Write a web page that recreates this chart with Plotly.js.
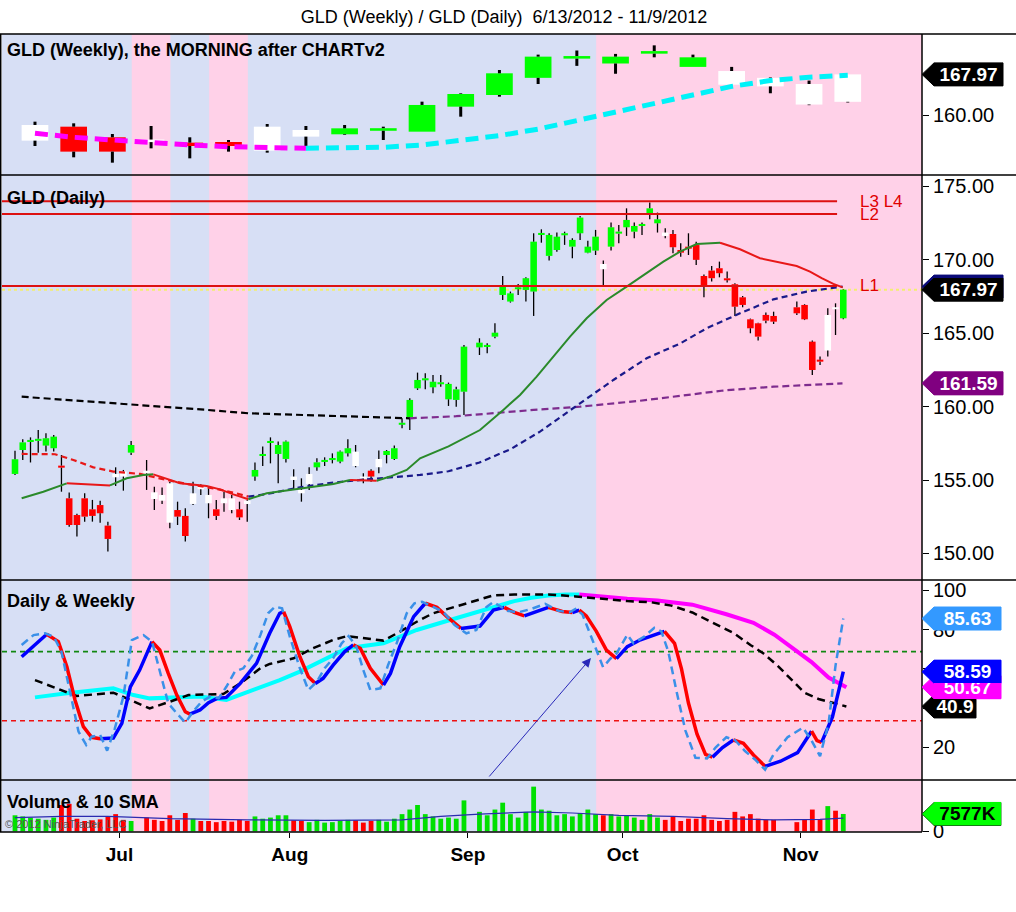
<!DOCTYPE html>
<html><head><meta charset="utf-8">
<script src="https://cdn.plot.ly/plotly-3.0.1.min.js"></script>
<style>html,body{margin:0;padding:0;background:#fff;}#chart{width:1016px;height:912px;}</style>
</head><body><div id="chart"></div>
<script>
// ================= DATA =================
const firstWeekday = '2012-06-12';
const marketClosed = ['2012-07-04','2012-09-03','2012-10-29','2012-10-30'];
const monthNames = ['Jan','Feb','Mar','Apr','May','Jun','Jul','Aug','Sep','Oct','Nov','Dec'];

// Daily GLD candles (trading days in order)
const dailyOpen = [155.42,157.05,157.60,157.68,157.35,157.17,155.96,153.76,152.62,153.76,153.01,153.30,151.90,155.42,155.58,156.87,
 155.64,154.17,153.99,154.78,152.96,152.56,153.38,154.55,153.99,153.01,153.76,153.76,153.01,153.60,155.24,156.64,157.55,156.78,156.44,155.24,154.33,154.74,155.87,156.26,156.39,156.26,156.82,156.94,155.24,155.64,155.87,156.71,156.44,158.80,159.28,161.25,161.82,161.32,161.55,160.50,160.46,161.02,
 164.04,164.09,164.77,167.61,167.16,168.02,167.95,167.84,171.72,170.27,170.67,171.70,170.90,171.81,170.49,170.63,169.72,170.90,171.81,172.22,171.92,172.33,173.13,172.49,171.86,171.76,170.67,170.90,171.01,168.90,169.27,169.43,168.72,168.34,167.45,165.95,165.68,166.25,166.18,
 166.77,166.93,164.43,163.18,163.82,166.75,166.02];
const dailyHigh = [157.00,157.78,157.91,158.41,158.19,158.07,156.71,154.15,152.70,154.10,153.65,153.60,152.17,155.87,155.69,157.66,
 156.37,154.55,154.50,154.89,153.53,153.08,154.89,154.71,154.44,153.65,154.21,153.99,153.53,153.65,156.19,157.28,157.91,157.62,157.69,155.73,155.12,155.87,156.48,156.55,156.82,157.01,157.78,157.39,155.46,155.73,157.01,157.05,157.35,159.21,160.57,162.32,162.27,162.16,162.16,161.64,161.36,164.20,
 164.66,164.32,165.68,168.90,167.84,168.36,168.81,171.81,172.08,171.81,171.86,171.92,171.47,172.99,171.31,172.04,169.95,172.54,172.38,173.51,172.54,172.54,173.90,173.22,172.15,172.04,171.13,171.81,171.24,169.00,169.58,169.88,169.20,168.40,167.54,166.00,165.72,166.41,166.47,
 167.16,166.98,164.50,163.41,166.70,167.04,168.00];
const dailyLow = [155.35,156.37,156.20,156.87,156.94,156.94,154.21,151.83,151.15,152.17,152.17,152.10,150.13,154.60,154.28,156.71,
 154.33,152.96,153.37,151.72,151.94,150.81,153.30,153.99,152.40,152.28,152.85,152.74,152.28,152.17,154.96,155.96,156.14,154.78,156.19,154.33,153.53,154.33,155.64,155.96,156.14,156.14,156.60,155.87,154.78,154.89,155.46,156.14,156.37,158.53,158.41,161.14,161.18,160.91,161.36,160.05,160.00,159.43,
 163.52,163.64,164.66,167.27,167.09,167.61,167.16,166.18,171.17,169.95,170.56,171.02,170.11,171.36,170.45,170.33,168.29,170.63,171.13,171.63,171.47,171.70,172.76,171.86,171.47,170.45,170.22,170.33,169.65,167.45,168.52,168.81,168.45,166.18,166.77,165.00,164.50,165.68,165.63,
 166.25,165.90,162.16,162.84,163.41,164.88,165.95];
const dailyClose = [156.42,157.57,157.73,157.80,157.85,157.96,155.87,151.94,151.94,152.51,152.56,152.74,150.99,155.19,155.24,157.39,
 155.46,153.71,153.60,152.10,152.51,151.19,154.10,154.37,153.42,152.56,153.42,152.96,152.46,153.37,155.69,156.78,157.64,157.39,157.62,155.01,154.10,155.42,156.21,156.35,156.48,156.94,157.17,155.96,155.10,155.24,156.44,156.98,157.17,158.87,160.46,161.82,161.91,161.70,161.64,161.55,161.18,164.09,
 164.36,164.18,165.04,168.29,167.72,168.11,168.75,171.24,171.81,171.70,171.58,171.79,171.36,172.88,170.90,171.58,169.36,172.22,171.90,172.72,172.31,172.42,173.51,172.76,171.63,170.86,170.49,170.76,170.00,168.18,168.75,169.09,168.63,166.81,166.93,165.34,164.77,165.86,165.79,
 166.36,165.95,162.50,163.09,166.25,166.66,167.97];
// bar paint: G = green, R = red, W = white
const dailyPaint = ('GGGGGG RRRRRRR WW G WWWW RR WWW R WW R W GGGGG WWW GGGGG WW R W GGGGGGGGGGG ' +
                    'GGGGGGGGGGGGGGGG W GGGGGGG W RRRRRRRRRRRRRR RRRR WW G').replace(/ /g,'').split('');
// Daily volume (thousands of shares)
const dailyVolume = [7000,6500,6000,5500,5000,6000,11500,12000,5500,4500,4800,5200,6500,7500,5000,4500,
 6000,5000,4500,7000,5000,8000,5500,4500,4500,4000,4500,4200,5000,4500,6500,5500,6000,7000,7000,4800,4500,4000,5000,3800,4000,4500,5000,4800,3800,4500,5000,4200,5500,7500,9500,11500,7500,6500,5500,6000,5500,13500,
 8500,7000,9500,12500,7500,6000,8500,19500,9500,9000,7000,7500,6500,8000,9500,7500,7000,7500,6500,7000,6000,5000,7500,6000,5000,6500,4500,5500,5500,7000,5000,4500,5000,8500,6500,7500,5500,5000,5000,
 4000,5000,9500,5000,11000,9000,7577];
const volSmaDays = [0,6,12,20,30,40,50,55,60,67,72,78,85,92,98,104,107];
const volSmaVals = [6000,6500,6500,5500,5000,4800,5000,6500,7500,8500,8000,7000,6500,5500,5000,5200,5800];

// Weekly GLD candles
const weeklyOpen  = [155.12,157.83,155.77,154.93,154.73,154.86,153.18,155.90,156.35,157.19,156.86,161.71,163.97,167.30,171.14,170.08,172.07,169.42,168.62,167.30,166.10,162.65];
const weeklyHigh  = [158.80,158.48,156.41,157.96,155.77,155.25,158.35,157.96,158.16,157.83,162.68,164.30,168.82,171.80,172.60,171.94,173.60,171.80,169.42,167.40,166.77,167.97];
const weeklyLow   = [154.08,151.89,150.85,153.63,151.69,152.99,152.79,154.08,156.22,155.25,156.86,159.77,163.65,166.10,169.62,168.09,171.28,169.42,165.97,164.31,162.00,162.52];
const weeklyClose = [158.16,152.99,152.99,155.25,154.08,154.08,157.83,157.19,157.51,157.38,162.04,164.17,168.18,171.41,171.41,171.41,172.40,171.28,165.97,165.64,162.12,167.97];
const weeklyPaint = 'WRRWRRWWGGGGGGGGGGWWWW'.split('');
const weeklyMA    = [156.55,155.77,155.25,154.73,154.28,153.95,153.70,153.64,153.66,153.83,154.28,155.25,156.10,157.36,159.01,160.66,162.33,163.98,165.64,166.77,167.43,167.80];
const pinkWeeks   = [3,5,15,16,17,18,19,20,21];

// Daily moving averages (day position, value)
const fastMADays = [0.86,3.66,6.68,9.26,12.27,14.43,16.58,17.87,19.6,21.32,24.76,26.49,28.21,30.15,32.52,35.53,38.97,41.13,43.28,45.0,46.73,48.45,50.6,52.33,56.0,60.07,63.08,65.24,67.39,69.54,71.7,73.85,76.43,79.02,81.6,83.76,85.91,88.06,91.08,93.66,96.24,98.83,100.98,102.7,104.21,105.72,106.92];
const fastMAVals = [153.76,154.21,154.78,154.71,154.64,155.12,155.35,155.39,155.08,154.78,154.60,154.37,154.03,153.69,154.10,154.33,154.60,154.74,155.00,154.97,154.95,155.24,155.69,156.48,157.30,158.41,159.78,160.80,162.05,163.41,164.77,166.02,167.27,168.18,169.09,169.88,170.56,171.08,171.17,170.72,170.11,169.81,169.58,169.20,168.75,168.36,168.13];
const slowMADays = [0.86,5.17,7.54,10.12,12.7,16.15,19.6,22.18,25.62,28.21,30.15,32.52,36.82,41.13,45.43,48.88,52.33,56.0,60.0,64.0,67.82,72.99,77.3,81.6,85.91,89.35,93.66,97.97,102.27,106.92];
const slowMAVals = [156.78,156.76,156.37,155.87,155.58,155.42,155.01,154.74,154.44,154.15,153.87,154.05,154.51,154.83,155.05,155.19,155.35,155.60,156.20,157.10,158.30,160.23,161.82,163.30,164.30,165.34,166.36,167.31,167.84,168.18];
const longMADays = [0.86,16.6,24.8,30.15,36.8,45.4,51.0,57.0,67.0,73.0,80.7,85.9,91.5,98.0,106.9];
const longMAVals = [160.68,160.12,159.78,159.55,159.44,159.28,159.21,159.35,159.78,160.00,160.40,160.73,161.10,161.36,161.59];
const levelValues = [174.00,173.12,168.22];
const levelNames  = ['L3 L4','L2','L1'];

// Stochastics (day position, value)
const dSlowDays = [0.86,4.1,5.6,6.7,7.75,8.83,9.9,11.0,12.7,13.8,14.9,16.1,17.7,18.7,19.8,20.9,22.0,22.6,23.9,25.0,26.1,27.3,29.1,31.2,32.9,34.2,34.7,35.5,36.8,37.9,38.8,39.8,41.1,42.6,43.7,44.6,45.9,47.6,48.5,49.7,51.5,53.0,54.5,55.8,57.6,60.07,61.8,63.2,64.5,65.8,67.1,68.9,70.7,72.0,72.9,73.8,75.1,76.4,77.7,79.1,80.8,82.6,83.9,85.2,86.1,87.0,88.1,89.2,90.1,91.4,92.8,94.1,95.4,96.9,98.9,101.1,102.9,103.6,104.2,105.6,107.0];
const dSlowVals = [66.2,77.6,73.9,61.1,44.2,30.6,25.2,24.5,24.8,32.3,50.9,59.4,73.9,69.6,57.7,46.7,38.2,37.0,39.1,42.8,45.0,45.5,52.6,62.8,78.1,88.3,89.1,81.5,66.2,56.0,52.6,55.2,61.9,68.8,72.2,70.5,60.3,51.8,57.7,71.3,86.6,93.4,91.3,86.6,80.6,81.8,89.9,91.3,88.7,87.0,88.7,91.3,89.2,88.7,89.9,87.0,79.1,69.6,65.2,71.3,74.8,77.4,79.1,73.0,60.0,42.6,26.9,16.5,15.1,20.0,23.8,22.1,16.2,10.4,13.0,17.4,28.3,23.5,22.6,35.6,58.59];
const dFastDays = [0.86,2.4,3.9,5.0,6.0,7.1,8.2,9.2,9.9,11.0,11.9,12.9,14.0,15.1,16.6,17.7,18.7,19.8,20.9,22.0,23.0,24.1,25.2,26.3,27.3,28.4,29.5,30.6,31.7,32.7,33.6,34.5,35.5,36.8,37.9,39.0,40.0,41.1,42.2,43.1,44.1,45.0,45.9,47.2,48.2,49.3,50.6,51.6,52.6,53.9,55.3,56.8,58.3,59.6,60.9,61.8,63.6,64.9,66.7,68.5,70.2,71.6,72.4,73.3,74.6,75.97,76.9,77.7,79.1,79.9,81.3,82.6,83.5,84.4,85.5,86.6,87.9,89.4,90.5,91.9,93.0,94.3,95.6,96.9,98.0,99.8,101.8,102.9,104.0,105.1,106.0,107.0];
const dFastVals = [72.2,77.2,78.1,76.4,68.8,49.3,28.1,21.3,25.5,26.4,18.4,29.7,45.9,74.7,77.2,73.9,59.4,42.5,37.4,32.6,38.2,43.3,45.9,45.0,50.9,58.6,60.3,66.6,77.2,88.3,91.7,90.8,76.4,60.3,49.3,53.5,60.3,65.4,73.0,76.7,71.3,59.4,49.3,50.1,62.0,73.0,88.3,93.4,94.2,91.7,89.1,82.3,78.1,79.8,91.5,94.0,89.6,88.7,90.5,93.1,89.6,88.7,90.5,87.8,74.8,60.9,65.2,67.8,77.4,73.0,76.5,80.9,79.1,68.7,47.8,28.7,14.8,14.4,20.0,25.2,23.8,18.2,13.9,8.7,16.5,25.2,30.1,23.5,15.6,32.2,61.7,85.63];
const wkDUpDays = [2.58,6.7,12.7,15.3,17.4,20.5,23.9,27.3,30.8,34.2,36.8,39.8,42.9,47.6,51.9,56.2,60.07,62.3,64.5,66.7,68.9,71.1,72.9];
const wkDUpVals = [45.5,47.6,50.1,46.7,45.0,45.5,45.9,44.2,49.3,54.3,58.6,64.5,70.5,73.0,79.8,84.9,89.6,92.2,94.5,96.2,97.4,97.9,97.9];
const wkDDownDays = [72.9,75.5,79.1,83.0,87.5,91.9,95.4,98.1,100.7,102.9,105.1,107.4];
const wkDDownVals = [97.9,96.9,95.7,94.8,92.7,87.8,83.5,77.4,69.6,63.5,55.6,50.67];
const wkKDays = [2.58,4.95,7.97,12.7,15.3,17.4,20.0,22.4,24.8,26.9,29.1,31.7,32.9,36.0,38.5,41.1,42.9,45.0,47.6,49.7,51.9,54.0,56.2,59.2,61.8,64.5,68.9,72.4,75.5,79.1,82.2,84.8,87.5,90.1,92.8,95.0,96.7,98.5,100.3,102.0,103.8,105.6,107.4];
const wkKVals = [54.3,50.6,46.2,47.9,43.3,39.9,43.3,46.7,47.0,47.2,52.6,60.3,62.5,65.4,70.5,74.7,76.7,75.6,74.4,78.9,84.0,88.3,90.8,94.2,97.4,97.9,97.9,96.9,95.7,94.5,93.9,92.2,88.7,83.5,78.3,72.2,67.8,61.7,54.8,47.8,44.7,42.9,40.9];
const stochLevels = [68.8,33.6];
const arrowFrom = {day:61.1, value:4.5};
const arrowTo   = {day:74.4, value:65.5};

// ================= LAYOUT CONSTANTS =================
const BLUE='#D7DFF5', PINK='#FFD1E8';
const FONT='Liberation Sans, Arial, sans-serif';
const XR=[-1.68,117.17];
const WEEK_POS=2.58; // weekly bar position inside its 5-day slot
const PW=920;        // plot width px
const D_TOP=[0.82331,1], D_DAY=[0.31579,0.82331], D_STO=[0.065163,0.31579], D_VOL=[0,0.065163];

// ================= POSITIONS =================
const weekdayDates=[];
(function(){let d=new Date(firstWeekday+'T00:00:00Z');while(weekdayDates.length<130){const wd=d.getUTCDay();if(wd!==0&&wd!==6)weekdayDates.push(d.toISOString().slice(0,10));d.setUTCDate(d.getUTCDate()+1);}})();
const dayX=[];
for(let k=0;k<weekdayDates.length&&dayX.length<dailyClose.length;k++){if(!marketClosed.includes(weekdayDates[k]))dayX.push(k);}
const lastDay=dayX[dayX.length-1];
const tickVals=[],tickText=[];
for(let k=1;k<=lastDay;k++){const m=+weekdayDates[k].slice(5,7),pm=+weekdayDates[k-1].slice(5,7);if(m!==pm){tickVals.push(k-0.5);tickText.push(monthNames[m-1]);}}
const weekX=weeklyClose.map((_,w)=>WEEK_POS+5*w);
const COL={G:'#00FF00',R:'#FF0000',W:'#FFFFFF'};

function candleTraces(xs,O,H,L,C,paint,minH,bodyW,wickW,yaxis){
  const base=[],hgt=[],wx=[],wy=[];
  for(let k=0;k<xs.length;k++){
    let lo=Math.min(O[k],C[k]),hi=Math.max(O[k],C[k]);
    if(hi-lo<minH){const m=(hi+lo)/2;lo=m-minH/2;hi=m+minH/2;}
    base.push(lo);hgt.push(hi-lo);
    if(H[k]>hi){wx.push(xs[k],xs[k],null);wy.push(H[k],hi,null);}
    if(L[k]<lo){wx.push(xs[k],xs[k],null);wy.push(lo,L[k],null);}
  }
  return [
    {type:'bar',x:xs,y:hgt,base:base,width:bodyW,marker:{color:paint.map(p=>COL[p]),line:{width:0}},xaxis:'x',yaxis:yaxis,hoverinfo:'skip'},
    {type:'scatter',mode:'lines',x:wx,y:wy,line:{color:'#000',width:wickW},xaxis:'x',yaxis:yaxis,hoverinfo:'skip'}
  ];
}
function trendLines(xs,ys,up,down,width,dash,yaxis){
  const segs=[];let cur=null;
  for(let k=1;k<xs.length;k++){
    const c=ys[k]>=ys[k-1]?up:down;
    if(!cur||cur.c!==c){cur={c:c,x:[xs[k-1]],y:[ys[k-1]]};segs.push(cur);}
    cur.x.push(xs[k]);cur.y.push(ys[k]);
  }
  return segs.map(s=>({type:'scatter',mode:'lines',x:s.x,y:s.y,line:{color:s.c,width:width,dash:dash},xaxis:'x',yaxis:yaxis,hoverinfo:'skip'}));
}
function line(xs,ys,color,width,dash,yaxis){return {type:'scatter',mode:'lines',x:xs,y:ys,line:{color:color,width:width,dash:dash},xaxis:'x',yaxis:yaxis,hoverinfo:'skip'};}

const traces=[];
// top panel (weekly)
traces.push(...candleTraces(weekX,weeklyOpen,weeklyHigh,weeklyLow,weeklyClose,weeklyPaint,0.5,3.45,3,'y'));
traces.push(...trendLines(weekX,weeklyMA,'#00F2F8','#FF00FF',5,'13px,7px','y'));
// daily panel
traces.push(...candleTraces(dayX,dailyOpen,dailyHigh,dailyLow,dailyClose,dailyPaint,0.14,0.85,1.3,'y2'));
traces.push(...trendLines(longMADays,longMAVals,'#7E2C8E','#000000',2.2,'7px,4px','y2'));
traces.push(...trendLines(slowMADays,slowMAVals,'#1A1A8A','#E81818',2.2,'6px,4px','y2'));
traces.push(...trendLines(fastMADays,fastMAVals,'#2A8A2A','#E81818',2,'solid','y2'));
levelValues.forEach(v=>traces.push(line([XR[0],106.2],[v,v],'#DD1111',2,'solid','y2')));
// stochastic panel
traces.push(line([XR[0],XR[1]],[stochLevels[0],stochLevels[0]],'#118811',1.6,'5px,4px','y3'));
traces.push(line([XR[0],XR[1]],[stochLevels[1],stochLevels[1]],'#EE1111',1.6,'5px,4px','y3'));
traces.push(line(wkDUpDays,wkDUpVals,'#00FFFF',4,'solid','y3'));
traces.push(line(wkDDownDays,wkDDownVals,'#FF00FF',4,'solid','y3'));
traces.push(line(wkKDays,wkKVals,'#000000',2.5,'8px,5px','y3'));
traces.push(...trendLines(dSlowDays,dSlowVals,'#0000FF','#FF0000',3.5,'solid','y3'));
traces.push(line(dFastDays,dFastVals,'#3A90E8',2.5,'8px,5px','y3'));
// volume panel
traces.push({type:'bar',x:dayX,y:dailyVolume,width:0.62,marker:{color:dailyClose.map((c,k)=>c>=dailyOpen[k]?'#00E000':'#FF0000'),line:{width:0}},xaxis:'x',yaxis:'y4',hoverinfo:'skip'});
traces.push(line(volSmaDays,volSmaVals,'#2B2BB0',1.2,'solid','y4'));

// ---- shapes
const shapes=[];
let runs=[];pinkWeeks.forEach(w=>{const r=runs[runs.length-1];if(r&&w===r[1]+1)r[1]=w;else runs.push([w,w]);});
runs.forEach(r=>{shapes.push({type:'rect',xref:'x',yref:'paper',x0:weekX[r[0]]-2.5,x1:(r[1]===weeklyClose.length-1?XR[1]:weekX[r[1]]+2.5),y0:0,y1:1,fillcolor:PINK,line:{width:0},layer:'below'});});
const lastClose=dailyClose[dailyClose.length-1];
shapes.push({type:'line',xref:'paper',yref:'y2',x0:0,x1:1,y0:lastClose,y1:lastClose,line:{color:'#F4EE70',width:2,dash:'dot'},layer:'below'});
const fx0=-2/PW,fx1=1014/PW;
[1,D_TOP[0],D_DAY[0],D_STO[0]].forEach(y=>shapes.push({type:'line',xref:'paper',yref:'paper',x0:fx0,x1:fx1,y0:y,y1:y,line:{color:'#000',width:1.5},layer:'above'}));
shapes.push({type:'line',xref:'paper',yref:'paper',x0:fx0,x1:1,y0:0,y1:0,line:{color:'#000',width:1.5},layer:'above'});
shapes.push({type:'line',xref:'paper',yref:'paper',x0:1,x1:1,y0:0,y1:1,line:{color:'#000',width:1.5},layer:'above'});
shapes.push({type:'line',xref:'paper',yref:'paper',x0:-1.3/PW,x1:-1.3/PW,y0:0,y1:1,line:{color:'#000',width:1.5},layer:'above'});

// ---- annotations
const ann=[];
function label(text,py,size){ann.push({xref:'paper',yref:'paper',x:3/PW,y:(832-py)/798,xanchor:'left',yanchor:'middle',text:text,showarrow:false,font:{family:FONT,size:size||18,color:'#000',weight:'bold'}});}
label('GLD (Weekly), the MORNING after CHARTv2',50);
label('GLD (Daily)',198);
label('Daily &amp; Weekly',601);
label('Volume &amp; 10 SMA',802);
ann.push({xref:'paper',yref:'paper',x:1/PW,y:(832-824)/798,xanchor:'left',yanchor:'middle',text:'© 2012 NinjaTrader, LLC',showarrow:false,font:{family:FONT,size:11,color:'#555'}});
levelValues.forEach((v,k)=>ann.push({xref:'paper',yref:'y2',x:856/PW,y:v,xanchor:'left',yanchor:'middle',text:levelNames[k],showarrow:false,font:{family:FONT,size:17,color:'#E00000'}}));
ann.push({xref:'x',yref:'y3',x:arrowTo.day,y:arrowTo.value,axref:'x',ayref:'y3',ax:arrowFrom.day,ay:arrowFrom.value,text:'',showarrow:true,arrowhead:2,arrowsize:1.8,arrowwidth:1,arrowcolor:'#2828B8'});

// ---- right side value markers (later ones drawn on top of earlier ones)
const fmtP=v=>v.toFixed(2), fmtS=v=>String(+v.toFixed(2));
const markers=[
 {ax:'y', v:weeklyClose[weeklyClose.length-1], t:fmtP(weeklyClose[weeklyClose.length-1]), fill:'#000000', tc:'#fff', w:81},
 {ax:'y2',v:slowMAVals[slowMAVals.length-1], t:fmtP(slowMAVals[slowMAVals.length-1]), fill:'#0A0A78', tc:'#fff', w:81},
 {ax:'y2',v:lastClose, t:fmtP(lastClose), fill:'#000000', tc:'#fff', w:81},
 {ax:'y2',v:longMAVals[longMAVals.length-1], t:fmtP(longMAVals[longMAVals.length-1]), fill:'#800080', tc:'#fff', w:81},
 {ax:'y3',v:dFastVals[dFastVals.length-1], t:fmtS(dFastVals[dFastVals.length-1]), fill:'#3399FF', tc:'#fff', w:79},
 {ax:'y3',v:wkKVals[wkKVals.length-1], t:fmtS(wkKVals[wkKVals.length-1]), fill:'#000000', tc:'#fff', w:54},
 {ax:'y3',v:wkDDownVals[wkDDownVals.length-1], t:fmtS(wkDDownVals[wkDDownVals.length-1]), fill:'#FF00FF', tc:'#fff', w:79},
 {ax:'y3',v:dSlowVals[dSlowVals.length-1], t:fmtS(dSlowVals[dSlowVals.length-1]), fill:'#0000FF', tc:'#fff', w:79},
 {ax:'y4',v:dailyVolume[dailyVolume.length-1], t:Math.round(dailyVolume[dailyVolume.length-1])+'K', fill:'#00FF00', tc:'#000', w:79}
];
markers.forEach(m=>{
  shapes.push({type:'path',xref:'paper',yref:m.ax,xsizemode:'pixel',ysizemode:'pixel',xanchor:1,yanchor:m.v,
    path:`M0,0 L12,11.5 L${m.w},11.5 L${m.w},-11.5 L12,-11.5 Z`,fillcolor:m.fill,line:{color:m.fill==='#00FF00'?'#117711':m.fill,width:1},layer:'above'});
  ann.push({xref:'paper',yref:m.ax,x:1+(11+(m.w-11)/2)/PW,y:m.v,xanchor:'center',yanchor:'middle',text:m.t,showarrow:false,
    width:m.w-12,height:23,bgcolor:m.fill,borderpad:0,borderwidth:0,align:'center',valign:'middle',
    font:{family:FONT,size:19,color:m.tc,weight:'bold'}});
});

const yBase={side:'right',anchor:'x',showgrid:false,zeroline:false,showline:false,ticks:'outside',ticklen:6,tickcolor:'#000',tickwidth:1,tickfont:{family:FONT,size:20,color:'#000'},fixedrange:true};
const layout={
  width:1016,height:912,margin:{l:2,r:94,t:34,b:80},
  paper_bgcolor:'#fff',plot_bgcolor:BLUE,showlegend:false,hovermode:false,barmode:'overlay',
  font:{family:FONT,color:'#000'},
  title:{text:'GLD (Weekly) / GLD (Daily) \u00a06/13/2012 - 11/9/2012',x:504/1016,xanchor:'center',y:1-17/912,yanchor:'middle',font:{family:FONT,size:18,color:'#000'}},
  xaxis:{range:XR,anchor:'y4',tickvals:tickVals,ticktext:tickText,ticks:'outside',ticklen:5,tickcolor:'#000',tickfont:{family:FONT,size:19,color:'#000',weight:'bold'},showgrid:false,zeroline:false,showline:false,fixedrange:true},
  yaxis:Object.assign({},yBase,{domain:D_TOP,range:[148.46,175.80],tickvals:[160],tickformat:'.2f'}),
  yaxis2:Object.assign({},yBase,{domain:D_DAY,range:[148.195,175.78],tickvals:[150,155,160,165,170,175],tickformat:'.2f'}),
  yaxis3:Object.assign({},yBase,{domain:D_STO,range:[3.46,105.24],tickvals:[20,40,60,80,100]}),
  yaxis4:Object.assign({},yBase,{domain:D_VOL,range:[-300,22400],tickvals:[0]}),
  shapes:shapes,annotations:ann
};
Plotly.newPlot('chart',traces,layout,{staticPlot:true});
</script></body></html>
